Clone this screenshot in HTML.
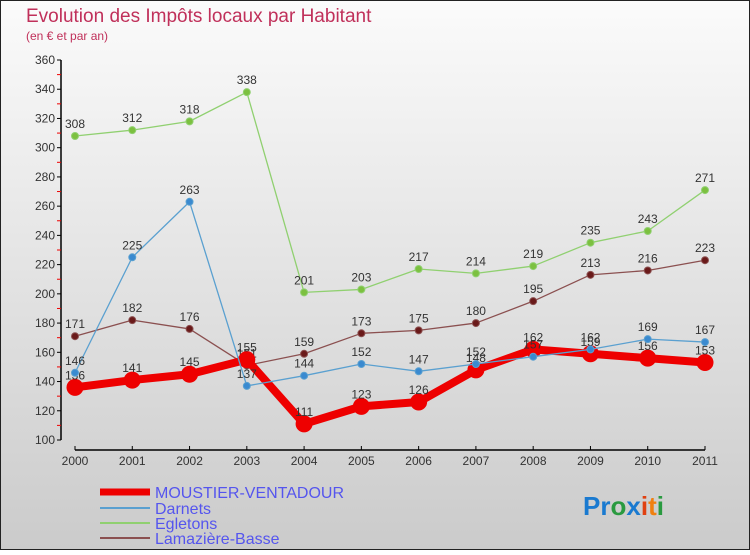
<!DOCTYPE html>
<html><head><meta charset="utf-8"><style>
body{margin:0}
#c{width:750px;height:550px;position:relative;font-family:"Liberation Sans",sans-serif}
</style></head><body>
<div id="c">
<svg id="s" width="750" height="550" xmlns="http://www.w3.org/2000/svg">
<defs><linearGradient id="bg" x1="0" y1="0" x2="0" y2="1"><stop offset="0" stop-color="#fbfbfb"/><stop offset="1" stop-color="#cbcbcb"/></linearGradient></defs>
<rect x="0.5" y="0.5" width="749" height="549" fill="url(#bg)" stroke="#222"/>
<text x="26" y="22" font-size="19" fill="#c0305a">Evolution des Impôts locaux par Habitant</text>
<text x="26" y="40" font-size="12" fill="#c0305a">(en € et par an)</text>
<g id="axes"></g>
<g id="plot"></g>
<g font-size="16" fill="#5555ee">
<line x1="100" y1="492" x2="150" y2="492" stroke="#ee0000" stroke-width="7"/>
<text x="155" y="498">MOUSTIER-VENTADOUR</text>
<line x1="100" y1="508" x2="150" y2="508" stroke="#5aa0d0" stroke-width="2"/>
<text x="155" y="514">Darnets</text>
<line x1="100" y1="523" x2="150" y2="523" stroke="#90d070" stroke-width="2"/>
<text x="155" y="529">Egletons</text>
<line x1="100" y1="538" x2="150" y2="538" stroke="#8b5050" stroke-width="2"/>
<text x="155" y="544">Lamazière-Basse</text>
</g>
<text x="583" y="515" font-size="26" font-weight="bold"><tspan fill="#1a7ad0">Pr</tspan><tspan fill="#2a9a40">o</tspan><tspan fill="#1a7ad0">x</tspan><tspan fill="#e04010">i</tspan><tspan fill="#f08010">t</tspan><tspan fill="#2a9a40">i</tspan></text>
</svg>
</div>
<script>
const years=["2000","2001","2002","2003","2004","2005","2006","2007","2008","2009","2010","2011"];
const yTicks=[100,120,140,160,180,200,220,240,260,280,300,320,340,360];
const moustier=[136,141,145,155,111,123,126,148,162,159,156,153];
const darnets=[146,225,263,137,144,152,147,152,157,162,169,167];
const egletons=[308,312,318,338,201,203,217,214,219,235,243,271];
const lamaziere=[171,182,176,151,159,173,175,180,195,213,216,223];
const NS="http://www.w3.org/2000/svg";
function X(i){return 75+i*(630/11);}
function Y(v){return 440-(v-100)*(380/260);}
function mk(t,a,p){const e=document.createElementNS(NS,t);for(const k in a)e.setAttribute(k,a[k]);p.appendChild(e);return e;}
const ax=document.getElementById('axes'),pl=document.getElementById('plot');
let l=mk('line',{x1:61,y1:60,x2:61,y2:440,stroke:'#000','stroke-width':1.5},ax);


l=mk('line',{x1:75,y1:450,x2:705,y2:450,stroke:'#000','stroke-width':1.5},ax);


yTicks.forEach(v=>{
 mk('line',{x1:57,y1:Y(v),x2:61,y2:Y(v),stroke:'#000'},ax);
 if(v<360) mk('line',{x1:57,y1:Y(v+10),x2:61,y2:Y(v+10),stroke:'#e00'},ax);
 const t=mk('text',{x:55,y:Y(v)+4,'font-size':12,'text-anchor':'end',fill:'#333'},ax);
 t.textContent=v;
 
 
});
years.forEach((y,i)=>{
 mk('line',{x1:X(i),y1:446,x2:X(i),y2:450,stroke:'#000'},ax);
 const t=mk('text',{x:X(i),y:465,'font-size':12,'text-anchor':'middle',fill:'#333'},ax);
 t.textContent=y;
 
 
});
function series(data,color,w,r,name,dot){
 const g=mk('g',{},pl);
 
 
 const pts=data.map((v,i)=>X(i)+','+Y(v)).join(' ');
 mk('polyline',{points:pts,fill:'none',stroke:color,'stroke-width':w,'stroke-linejoin':'round'},g);
 data.forEach((v,i)=>{
  const c=mk('circle',{cx:X(i),cy:Y(v),r:r,fill:dot,stroke:color,'stroke-width':1},g);
  
  
  const t=mk('text',{x:X(i),y:Y(v)-8,'font-size':12,'text-anchor':'middle',fill:'#333'},g);
  t.textContent=v;
  
  
 });
}
series(egletons,'#90d070',1.3,3.5,'egletons','#7cc040');
series(lamaziere,'#8b5050',1.3,3.5,'lamaziere','#6a1a1a');
series(moustier,'#ee0000',8,8,'moustier','#ee0000');
series(darnets,'#5aa0d0',1.3,3.5,'darnets','#3a8ad0');
</script>
</body></html>
